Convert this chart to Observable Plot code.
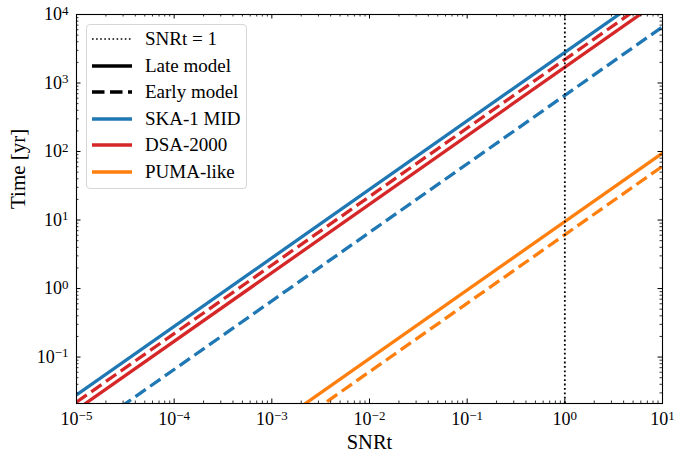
<!DOCTYPE html>
<html><head><meta charset="utf-8">
<script src="https://cdn.jsdelivr.net/npm/d3@7"></script>
<script src="https://cdn.jsdelivr.net/npm/@observablehq/plot@0.6"></script>
<style>
body{margin:0;background:#fff;}
#wrap{position:relative;width:676px;height:453px;font-family:"Liberation Serif","DejaVu Serif",serif;}
#legend{position:absolute;left:86px;top:24px;width:161px;height:165px;border:1px solid #d6d6d6;border-radius:4px;background:rgba(255,255,255,0.85);box-sizing:border-box;}
.row{position:absolute;left:5px;height:22px;display:flex;align-items:center;font-family:"Liberation Serif","DejaVu Serif",serif;font-size:19px;color:#000;white-space:nowrap;}
.row svg{margin-right:13px;}
</style></head><body><div id="wrap"></div>
<script>
// Data
const snrt = [1e-5, 1e1];
const skaLate = [0.028, 28000];
const skaEarly = [0.0066, 6600];
const dsaLate = [0.017, 17000];
const dsaEarly = [0.022, 22000];
const pumaLate = [9.5e-5, 95];
const pumaEarly = [6.1e-5, 61];
const xDomain = [1e-5, 10];
const yDomain = [0.021, 1e4];
const xMajor = [1e-5, 1e-4, 1e-3, 1e-2, 1e-1, 1, 10];
const yMajor = [1e-1, 1, 10, 100, 1000, 1e4];
const legendLabels = ["SNRt = 1", "Late model", "Early model", "SKA-1 MID", "DSA-2000", "PUMA-like"];
const colors = {ska: "#1f77b4", dsa: "#d62728", puma: "#ff7f0e"};

const DASH = "12.5,5.5";
const series = [
  {name: "SKA-1 MID late", values: skaLate, color: colors.ska, dash: null},
  {name: "SKA-1 MID early", values: skaEarly, color: colors.ska, dash: DASH},
  {name: "DSA-2000 late", values: dsaLate, color: colors.dsa, dash: null},
  {name: "DSA-2000 early", values: dsaEarly, color: colors.dsa, dash: DASH},
  {name: "PUMA-like late", values: pumaLate, color: colors.puma, dash: null},
  {name: "PUMA-like early", values: pumaEarly, color: colors.puma, dash: DASH}
];

const isMajor = v => Math.abs(Math.log10(v) - Math.round(Math.log10(v))) < 1e-9;
const xMinor = d3.scaleLog().domain(xDomain).ticks().filter(v => !isMajor(v));
const yMinor = d3.scaleLog().domain(yDomain).ticks().filter(v => !isMajor(v));
const fmt = d => "10^" + String(Math.round(Math.log10(d))).replace("-", "\u2212");

const W = 676, H = 453, mt = 14, mb = 50, ml = 76, mr = 14;
const fh = H - mt - mb, fw = W - ml - mr;
const MAJ = 4.5, MIN = 2.5;

const marks = [];
for (const s of series) {
  const rows = snrt.map((x, i) => ({x, y: s.values[i]}));
  marks.push(Plot.line(rows, {x: "x", y: "y", stroke: s.color, strokeWidth: 3.3, strokeDasharray: s.dash || undefined, clip: true, strokeLinecap: "butt"}));
}
marks.push(
  Plot.ruleX([1], {stroke: "black", strokeWidth: 1.8, strokeDasharray: "1.8,2.6"}),
  // inward ticks on all four sides
  Plot.ruleX(xMajor, {insetTop: fh - MAJ, stroke: "black", strokeWidth: 1}),
  Plot.ruleX(xMajor, {insetBottom: fh - MAJ, stroke: "black", strokeWidth: 1}),
  Plot.ruleX(xMinor, {insetTop: fh - MIN, stroke: "black", strokeWidth: 0.8}),
  Plot.ruleX(xMinor, {insetBottom: fh - MIN, stroke: "black", strokeWidth: 0.8}),
  Plot.ruleY(yMajor, {insetRight: fw - MAJ, stroke: "black", strokeWidth: 1}),
  Plot.ruleY(yMajor, {insetLeft: fw - MAJ, stroke: "black", strokeWidth: 1}),
  Plot.ruleY(yMinor, {insetRight: fw - MIN, stroke: "black", strokeWidth: 0.8}),
  Plot.ruleY(yMinor, {insetLeft: fw - MIN, stroke: "black", strokeWidth: 0.8}),
  Plot.frame({stroke: "black", strokeWidth: 1.1}),
  Plot.axisX(xMajor, {tickSize: 0, tickPadding: 9, tickFormat: fmt, label: null, fontSize: 18}),
  Plot.axisY(yMajor, {tickSize: 0, tickPadding: 8, tickFormat: fmt, label: null, fontSize: 18}),
  Plot.text(["SNRt"], {frameAnchor: "bottom", lineAnchor: "middle", dy: 38.5, fontSize: 20.5}),
  Plot.text(["Time [yr]"], {frameAnchor: "left", lineAnchor: "middle", dx: -58, rotate: -90, fontSize: 21})
);

const chart = Plot.plot({
  width: W, height: H,
  marginTop: mt, marginBottom: mb, marginLeft: ml, marginRight: mr,
  x: {type: "log", domain: xDomain},
  y: {type: "log", domain: yDomain},
  style: {fontFamily: '"Liberation Serif","DejaVu Serif",serif', fontSize: "18px", background: "white", color: "black"},
  marks
});

// superscript exponents
const NS = "http://www.w3.org/2000/svg";
chart.querySelectorAll('g[aria-label$="tick label"] text').forEach(t => {
  const s = t.textContent;
  if (!s.includes("^")) return;
  const [b, e] = s.split("^");
  t.textContent = "";
  const a = document.createElementNS(NS, "tspan"); a.textContent = b;
  const c = document.createElementNS(NS, "tspan"); c.textContent = e;
  c.setAttribute("dy", "-0.42em"); c.setAttribute("font-size", "0.72em");
  t.append(a, c);
});

const wrap = document.getElementById("wrap");
wrap.appendChild(chart);

// legend
const legend = document.createElement("div");
legend.id = "legend";
const swatches = [
  {color: "black", w: 1.6, dash: "1.6,2.5"},
  {color: "black", w: 3.3, dash: null},
  {color: "black", w: 3.3, dash: "12.5,5.5"},
  {color: colors.ska, w: 3.3, dash: null},
  {color: colors.dsa, w: 3.3, dash: null},
  {color: colors.puma, w: 3.3, dash: null}
];
legendLabels.forEach((lab, i) => {
  const row = document.createElement("div");
  row.className = "row";
  row.style.top = (3 + i * 26.6) + "px";
  const sw = swatches[i];
  row.innerHTML = `<svg width="40" height="10"><line x1="0" x2="40" y1="5" y2="5" stroke="${sw.color}" stroke-width="${sw.w}" ${sw.dash ? `stroke-dasharray="${sw.dash}"` : ""}/></svg><span>${lab}</span>`;
  legend.appendChild(row);
});
wrap.appendChild(legend);
</script></body></html>
